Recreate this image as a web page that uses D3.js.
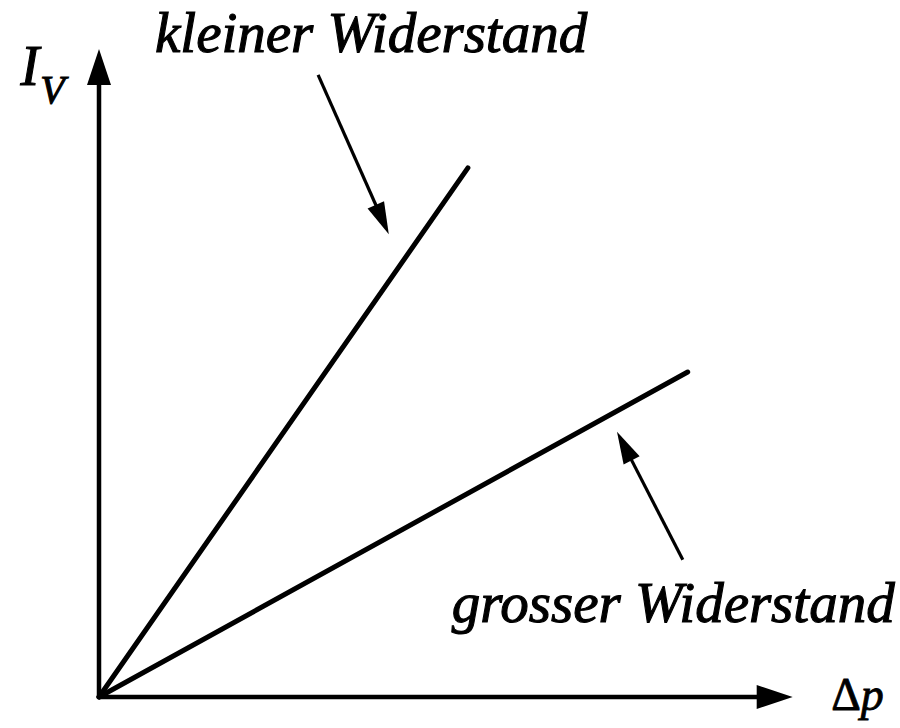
<!DOCTYPE html>
<html>
<head>
<meta charset="utf-8">
<script src="https://cdn.jsdelivr.net/npm/d3@7"></script>
<style>
  body { margin: 0; background: #fff; }
</style>
</head>
<body>
<div class="chart"></div>
<script>

// characteristic lines, end points in arbitrary units (origin is 0,0)
var lineNames = ["kleiner Widerstand", "grosser Widerstand"];
var lineEnds = [[52.7, 81.4], [84.1, 50.0]];

// pointer arrows: [start, tip]
var pointers = [
  [[31.3, 95.7], [41.4, 71.2]],
  [[83.4, 21.1], [74.0, 40.8]]
];

var axisMax = [99.1, 99.7];

var width = 900,
    height = 728,
    serif = "'Liberation Serif', 'Times New Roman', serif";

var svg = d3.select(".chart").append("svg")
    .attr("width", width)
    .attr("height", height);

var x = d3.scaleLinear().domain([0, 100]).range([99, 799]);
var y = d3.scaleLinear().domain([0, 100]).range([697, 47]);

// filled triangle at the tip of a segment
function head(x1, y1, x2, y2, len, half) {
  var dx = x2 - x1, dy = y2 - y1,
      d = Math.sqrt(dx * dx + dy * dy),
      ux = dx / d, uy = dy / d,
      bx = x2 - ux * len, by = y2 - uy * len;
  return "M" + x2 + "," + y2 +
    "L" + (bx - uy * half) + "," + (by + ux * half) +
    "L" + (bx + uy * half) + "," + (by - ux * half) + "Z";
}

// axes
var axes = [
  [[0, 0], [axisMax[0], 0]],
  [[0, 0], [0, axisMax[1]]]
];
axes.forEach(function(a) {
  var x1 = x(a[0][0]), y1 = y(a[0][1]), x2 = x(a[1][0]), y2 = y(a[1][1]);
  var dx = x2 - x1, dy = y2 - y1, d = Math.sqrt(dx * dx + dy * dy);
  svg.append("line")
      .attr("x1", x1).attr("y1", y1)
      .attr("x2", x2 - dx / d * 20).attr("y2", y2 - dy / d * 20)
      .attr("stroke", "#000")
      .attr("stroke-width", 4.5);
  svg.append("path")
      .attr("d", head(x1, y1, x2, y2, 36, 12))
      .attr("fill", "#000");
});

// the two lines
svg.selectAll(".kennlinie")
    .data(lineEnds)
  .enter().append("line")
    .attr("class", "kennlinie")
    .attr("x1", x(0)).attr("y1", y(0))
    .attr("x2", function(d) { return x(d[0]); })
    .attr("y2", function(d) { return y(d[1]); })
    .attr("stroke", "#000")
    .attr("stroke-width", 5)
    .attr("stroke-linecap", "round");

// pointers
pointers.forEach(function(p) {
  var x1 = x(p[0][0]), y1 = y(p[0][1]), x2 = x(p[1][0]), y2 = y(p[1][1]);
  var dx = x2 - x1, dy = y2 - y1, d = Math.sqrt(dx * dx + dy * dy);
  svg.append("line")
      .attr("x1", x1).attr("y1", y1)
      .attr("x2", x2 - dx / d * 15).attr("y2", y2 - dy / d * 15)
      .attr("stroke", "#000")
      .attr("stroke-width", 3.2);
  svg.append("path")
      .attr("d", head(x1, y1, x2, y2, 32, 9))
      .attr("fill", "#000");
});

// labels
function label(px, py, size, sw) {
  return svg.append("text")
      .attr("x", px).attr("y", py)
      .style("font-family", serif)
      .style("font-style", "italic")
      .style("font-size", size + "px")
      .attr("fill", "#000")
      .attr("stroke", "#000").attr("stroke-width", sw);
}

label(x(8), y(99.3), 57, 1.1).text(lineNames[0]);
label(x(50.4), y(11.6), 57, 1.1).text(lineNames[1]);

var iv = label(x(-11.2), y(94.2), 56, 1.1);
iv.append("tspan").text("I");
iv.append("tspan").style("font-size", "40px").attr("dy", 18).attr("dx", 1).text("V");

var dp = label(x(104.6), y(-2), 46, 0.8);
dp.append("tspan").style("font-style", "normal").text("Δ");
dp.append("tspan").text("p");

</script>
</body>
</html>
